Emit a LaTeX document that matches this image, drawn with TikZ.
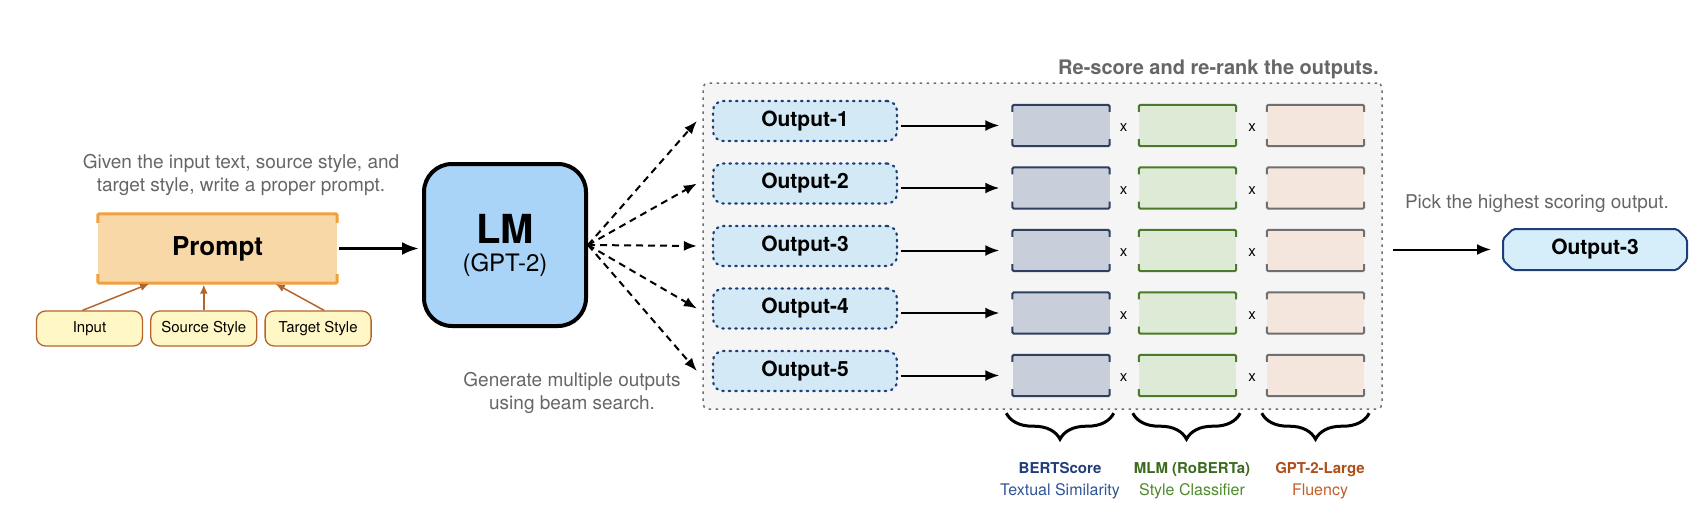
\documentclass[tikz,border=0pt]{standalone}
\usepackage{fontspec}
\setmainfont{TeX Gyre Heros}
\usepackage{tikz}
\usetikzlibrary{positioning,arrows.meta,shapes.misc,decorations.pathreplacing}

\definecolor{promptfill}{HTML}{F9D8A8}
\definecolor{promptdraw}{HTML}{F0A03C}
\definecolor{inputfill}{HTML}{FFF8C6}
\definecolor{inputdraw}{HTML}{B5652B}
\definecolor{lmfill}{HTML}{A9D3F7}
\definecolor{outfill}{HTML}{D3E9F6}
\definecolor{outdraw}{HTML}{1E3E78}
\definecolor{finalfill}{HTML}{D6EDFA}
\definecolor{panelfill}{HTML}{F5F5F5}
\definecolor{paneldraw}{HTML}{6E6E6E}
\definecolor{captiongray}{HTML}{666666}
\definecolor{bertfill}{HTML}{C9CEDB}
\definecolor{bertdraw}{HTML}{2E3F60}
\definecolor{mlmfill}{HTML}{DDEAD5}
\definecolor{mlmdraw}{HTML}{4C7A2A}
\definecolor{gptfill}{HTML}{F4E6DD}
\definecolor{gptdraw}{HTML}{707070}
\definecolor{bertname}{HTML}{1F3D7A}
\definecolor{berttext}{HTML}{2F5596}
\definecolor{mlmname}{HTML}{3B6A1E}
\definecolor{mlmtext}{HTML}{4F8A2C}
\definecolor{gptname}{HTML}{B04E1A}
\definecolor{gpttext}{HTML}{BF5F28}

\newcommand{\mysize}[1]{\fontsize{#1}{#1}\selectfont}
% top and bottom brackets round a node
\newcommand{\bracketbox}[4][2pt]{%
	\draw [draw=#3, line width=#1, rounded corners=1.5pt] ([yshift=-#4]#2.north west) |- (#2.north east) -- ([yshift=-#4]#2.north east);
	\draw [draw=#3, line width=#1, rounded corners=1.5pt] ([yshift=#4]#2.south west) |- (#2.south east) -- ([yshift=#4]#2.south east);
}

\begin{document}
\begin{tikzpicture}[x=1pt, y=-1pt,
	promptbox/.style={fill=promptfill, minimum width=239pt, minimum height=69pt, font=\mysize{26}\bfseries},
	inbox/.style={draw=inputdraw, fill=inputfill, line width=1.3pt, rounded corners=9pt, minimum width=106pt, minimum height=35pt, font=\mysize{15}},
	inarrow/.style={draw=inputdraw, line width=1.5pt, -{Latex[length=9pt,width=8pt]}, shorten >=1.5pt},
	lmbox/.style={draw=black, fill=lmfill, line width=4pt, rounded corners=28pt, minimum width=162pt, minimum height=162pt, align=center, font=\fontsize{24}{28}\selectfont},
	bigarrow/.style={line width=3pt, -{Latex[length=17pt,width=13pt]}, shorten <=2pt, shorten >=3pt},
	outbox/.style={draw=outdraw, fill=outfill, line width=2.2pt, dash pattern=on 1.5pt off 5pt, line cap=round, rounded corners=10pt, minimum width=184pt, minimum height=40pt, font=\mysize{21}\bfseries},
	lmarrow/.style={line width=2pt, dash pattern=on 7pt off 5pt, -{Latex[length=13pt,width=10pt]}},
	panel/.style={draw=paneldraw, fill=panelfill, line width=1.5pt, dash pattern=on 2.5pt off 4.5pt, rounded corners=5pt, minimum width=679pt, minimum height=326pt},
	scorebox/.style={minimum width=97pt, minimum height=41pt, inner sep=0pt},
	outarrow/.style={line width=2pt, -{Latex[length=14pt,width=11pt]}},
	times/.style={font=\mysize{15}},
	rescore/.style={text=captiongray, font=\mysize{20}\bfseries, inner sep=0pt},
	caption/.style={text=captiongray, font=\fontsize{19}{23}\selectfont, align=center, inner sep=0pt},
	finalbox/.style={chamfered rectangle, chamfered rectangle xsep=5pt, chamfered rectangle ysep=5pt, rounded corners=2pt, draw=outdraw, fill=finalfill, line width=2pt, minimum width=184pt, minimum height=41pt, font=\mysize{21}\bfseries},
	curly/.style={decorate, decoration={brace, mirror, amplitude=26pt}, line width=3pt},
	namelbl/.style={font=\mysize{15}\bfseries, inner sep=0pt, text height=11pt, text depth=3pt},
	rolelbl/.style={font=\mysize{16}, inner sep=0pt, text height=11.5pt, text depth=3.5pt}]

	\useasboundingbox (0,0) rectangle (1706,504);

	% prompt and its inputs
	\node [promptbox] (prompt) at (217.5,248.5) {Prompt};
	\bracketbox[3pt]{prompt}{promptdraw}{9pt}
	\node [caption, above=18pt of prompt, xshift=23.5pt] (givencap) {Given the input text, source style, and\\target style, write a proper prompt.};

	\node [inbox] (input) at (89.5,328.5) {Input};
	\node [inbox, right=7pt of input] (source) {Source Style};
	\node [inbox, right=7pt of source] (target) {Target Style};

	\draw [inarrow] ([xshift=-7pt]input.north) -- ([xshift=-67pt]prompt.south);
	\draw [inarrow] (source.north) -- (source.north |- prompt.south);
	\draw [inarrow] ([xshift=6pt]target.north) -- ([xshift=57pt]prompt.south);

	% language model
	\node [lmbox] (lm) at (505,245) {{\fontsize{40}{28}\selectfont\bfseries LM}\\(GPT-2)};
	\draw [bigarrow] (prompt.east) -- (prompt.east -| lm.west);
	\node [caption, below=44pt of lm, xshift=67pt] (beamcap) {Generate multiple outputs\\using beam search.};

	% re-scoring panel
	\node [panel] (panel) at (1042.5,246) {};
	\node [rescore, above left=3pt and 4pt of panel.north east] (rescorecap) {Re-score and re-rank the outputs.};

	\foreach \i in {1,...,5} {
		\pgfmathsetmacro\ry{121+62.5*(\i-1)}
		\node [outbox] (out\i) at (805,\ry) {Output-\i};
		\node [scorebox, fill=bertfill] (bert\i) at (1061,\ry+4.5) {};
		\node [scorebox, fill=mlmfill] (mlm\i) at (1187.5,\ry+4.5) {};
		\node [scorebox, fill=gptfill] (gpt\i) at (1315.5,\ry+4.5) {};
		\bracketbox{bert\i}{bertdraw}{7pt}
		\bracketbox{mlm\i}{mlmdraw}{7pt}
		\bracketbox{gpt\i}{gptdraw}{7pt}
		\node [times] (xa\i) at (1123.5,\ry+7) {x};
		\node [times] (xb\i) at (1252,\ry+7) {x};
		\draw [lmarrow] (lm.east) -- ([xshift=-15pt]out\i.west);
		\draw [outarrow, shorten <=3pt, shorten >=13pt] (bert\i.west -| out\i.east) -- (bert\i.west);
	}

	% braces and scorer names
	\draw [curly] ([xshift=-6pt,yshift=-17pt]bert5.south west) -- ([xshift=4pt,yshift=-17pt]bert5.south east);
	\draw [curly] ([xshift=-6pt,yshift=-17pt]mlm5.south west) -- ([xshift=4pt,yshift=-17pt]mlm5.south east);
	\draw [curly] ([xshift=-5pt,yshift=-17pt]gpt5.south west) -- ([xshift=5pt,yshift=-17pt]gpt5.south east);

	\node [namelbl, text=bertname] (bertlbl) at (1060,469) {BERTScore};
	\node [rolelbl, text=berttext, below=8pt of bertlbl] (bertrole) {Textual Similarity};
	\node [namelbl, text=mlmname] (mlmlbl) at (1192,469) {MLM (RoBERTa)};
	\node [rolelbl, text=mlmtext, below=8pt of mlmlbl] (mlmrole) {Style Classifier};
	\node [namelbl, text=gptname] (gptlbl) at (1320,469) {GPT-2-Large};
	\node [rolelbl, text=gpttext, below=8pt of gptlbl] (gptrole) {Fluency};

	% chosen output
	\node [finalbox] (final) at (1595,249.5) {Output-3};
	\draw [outarrow, shorten <=10pt, shorten >=11pt] (final.west -| panel.east) -- (final.west);
	\node [caption, above=15pt of final, xshift=-58pt] (pickcap) {Pick the highest scoring output.};

\end{tikzpicture}
\end{document}
